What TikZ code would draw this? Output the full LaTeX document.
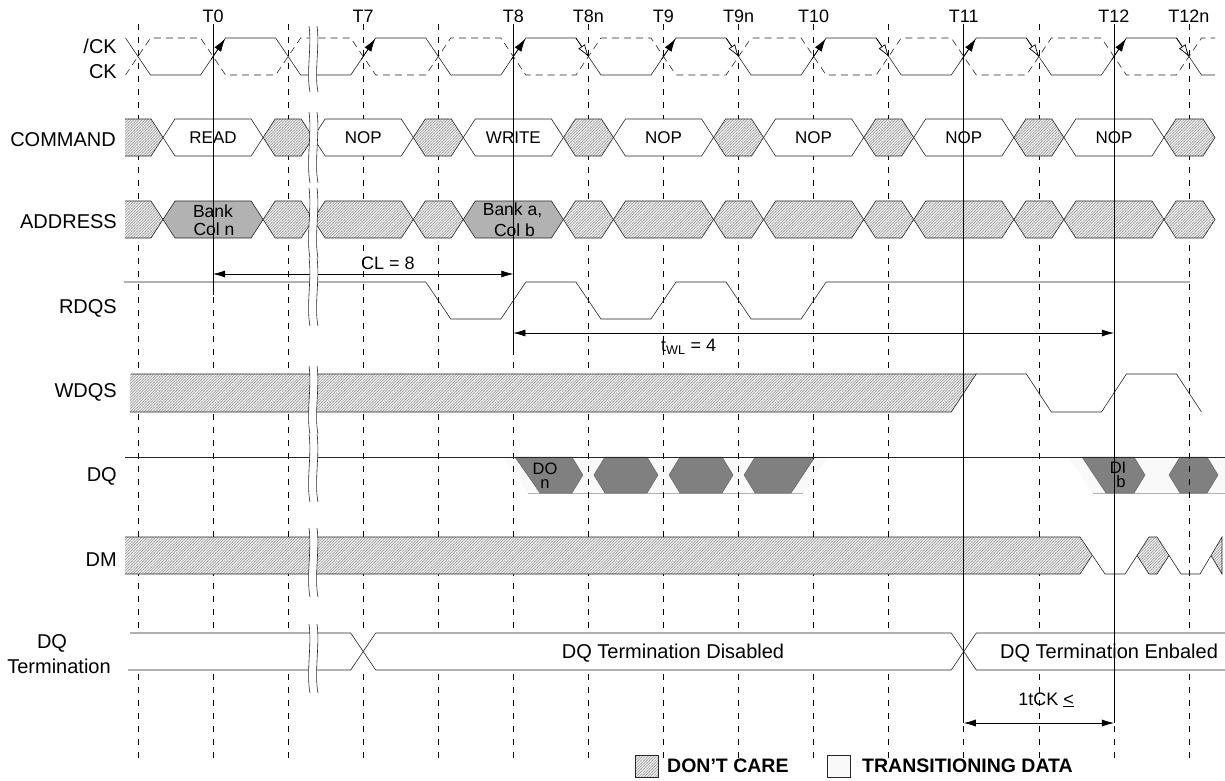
\documentclass[tikz,border=0pt]{standalone}
\usepackage{fontspec}
\setmainfont{Liberation Sans}
\usetikzlibrary{patterns.meta,arrows.meta}
\tikzdeclarepattern{name=finehatch,type=uncolored,bounding box={(-0.5pt,-0.5pt) and (3.3pt,3.3pt)},tile size={(2.8pt,2.8pt)},code={\draw[line width=0.5pt] (-0.5pt,-0.5pt) -- (3.3pt,3.3pt);}}
\pgfmathdeclarefunction{gx}{1}{\pgfmathparse{138+75.07*#1}}
\newcommand\hexa[5]{\draw[#1] ({#2},{(#4+#5)/2}) -- ({#2+12},#4) -- ({#3-12},#4) -- ({#3},{(#4+#5)/2}) -- ({#3-12},#5) -- ({#2+12},#5) -- cycle;}
\newcommand\brkmark[2]{%
\fill[white] (309,#1) .. controls (312,{#1+0.3*(#2-#1)}) and (306,{#1+0.7*(#2-#1)}) .. (310,#2) -- (318,#2) .. controls (314,{#1+0.7*(#2-#1)}) and (320,{#1+0.3*(#2-#1)}) .. (317,#1) -- cycle;
\draw[sig] (309,#1) .. controls (312,{#1+0.3*(#2-#1)}) and (306,{#1+0.7*(#2-#1)}) .. (310,#2);
\draw[sig] (317,#1) .. controls (320,{#1+0.3*(#2-#1)}) and (314,{#1+0.7*(#2-#1)}) .. (318,#2);}
\tikzset{
 sig/.style={line width=0.6pt, draw=black!85},
 hatch/.style={preaction={fill=gray!12}, pattern=finehatch, pattern color=gray!75},
 gridln/.style={line width=0.6pt, dash pattern=on 6pt off 7pt},
 lbl/.style={font=\fontsize{20}{22}\selectfont, inner sep=0pt},
 tlbl/.style={font=\fontsize{18}{20}\selectfont, inner sep=0pt},
 bus/.style={font=\fontsize{17}{19}\selectfont, inner sep=0pt},
 dimt/.style={font=\fontsize{18}{20}\selectfont, inner sep=0pt},
 small/.style={font=\fontsize{17.5}{19}\selectfont, inner sep=0pt},
 tiny/.style={font=\fontsize{16.5}{18}\selectfont, inner sep=0pt},
 big/.style={font=\fontsize{20}{22}\selectfont, inner sep=0pt},
 leg/.style={font=\fontsize{19.5}{22}\selectfont\bfseries, inner sep=0pt},
 darkd/.style={fill=gray, draw=black!60, line width=0.5pt},
 dim/.style={{Latex[length=12pt,width=7pt]}-{Latex[length=12pt,width=7pt]}, line width=0.6pt},
 farr/.style={-{Latex[length=13pt,width=8pt]}, line width=0.7pt},
 oarr/.style={-{Latex[length=13pt,width=8pt,fill=white]}, line width=0.7pt},
}
\begin{document}
\begin{tikzpicture}[x=1pt,y=-1pt]
\useasboundingbox (0,0) rectangle (1225,780);
% ---- DQ fills (below grid)
\fill[gray!5] (503,457) -- (827,457) -- (803,493) -- (528,493) -- cycle;
\draw[gray!60, line width=0.5pt] (528,493) -- (803,493);
\draw[darkd] (515,457) -- ({gx(6)-16.5},457) -- ({gx(6)-5.5},475) -- ({gx(6)-16.5},493) -- (540,493) -- cycle;
\foreach \k in {6,7} {\draw[darkd] ({gx(\k)+5.5},475) -- ({gx(\k)+16.5},457) -- ({gx(\k+1)-16.5},457) -- ({gx(\k+1)-5.5},475) -- ({gx(\k+1)-16.5},493) -- ({gx(\k)+16.5},493) -- cycle;}
\draw[darkd] ({gx(8)+5.5},475) -- ({gx(8)+16.5},457) -- (815,457) -- (791,493) -- ({gx(8)+16.5},493) -- cycle;
\fill[gray!5] (1068,457) -- (1225,457) -- (1225,493) -- (1093,493) -- cycle;
\draw[gray!60, line width=0.5pt] (1093,493) -- (1225,493);
\draw[darkd] (1082,457) -- (1134,457) -- (1145,475) -- (1134,493) -- (1106,493) -- cycle;
\draw[darkd] (1169,475) -- (1180,457) -- (1207,457) -- (1218,475) -- (1207,493) -- (1180,493) -- cycle;
% ---- grid
\foreach \k in {0,...,14} {\draw[gridln] ({gx(\k)},24) -- ({gx(\k)},760);}
% ---- clock
\draw[sig] (125.5,38) \foreach \k in {0,...,14} { -- ({gx(\k)-12.5},{38+37*mod(\k,2)}) -- ({gx(\k)+12.5},{75-37*mod(\k,2)}) } -- (1215,75);
\draw[sig, dash pattern=on 7pt off 5pt] (125.5,75) \foreach \k in {0,...,14} { -- ({gx(\k)-12.5},{75-37*mod(\k,2)}) -- ({gx(\k)+12.5},{38+37*mod(\k,2)}) } -- (1215,38);
\foreach \k in {1,3,5,7,9,11,13} {\draw[farr] ({gx(\k)-2},59.5) -- ({gx(\k)+12},38.7);}
\foreach \k in {6,8,10,12,14} {\draw[oarr] ({gx(\k)-12.5},38) -- ({gx(\k)+0.5},57.2);}
% ---- COMMAND
\fill[hatch] (125,119) -- (151,119) -- (163,137.5) -- (151,156) -- (125,156) -- cycle;
\draw[sig] (125,119) -- (151,119) -- (163,137.5) -- (151,156) -- (125,156);
\foreach \k in {2,4,...,12} {\hexa{sig,hatch}{gx(\k)-25}{gx(\k)+25}{119}{156}}
\hexa{sig,hatch}{gx(14)-25}{1215}{119}{156}
\foreach \k/\t in {1/READ,3/NOP,5/WRITE,7/NOP,9/NOP,11/NOP,13/NOP} {\hexa{sig,fill=white}{gx(\k-1)+25}{gx(\k+1)-25}{119}{156}
 \node[bus] (cmd\k) at ({gx(\k)},138) {\t};}
% ---- ADDRESS
\fill[hatch] (125,201) -- (151,201) -- (163,219.5) -- (151,238) -- (125,238) -- cycle;
\draw[sig] (125,201) -- (151,201) -- (163,219.5) -- (151,238) -- (125,238);
\foreach \k in {2,4,...,12} {\hexa{sig,hatch}{gx(\k)-25}{gx(\k)+25}{201}{238}}
\hexa{sig,hatch}{gx(14)-25}{1215}{201}{238}
\foreach \k in {3,7,9,11,13} {\hexa{sig,hatch}{gx(\k-1)+25}{gx(\k+1)-25}{201}{238}}
\foreach \k in {1,5} {\hexa{sig,fill=black!30}{gx(\k-1)+25}{gx(\k+1)-25}{201}{238}}
\node[small] (ad1) at (213,211) {Bank};
\node[small] (ad2) at (214,229.5) {Col n};
\node[small] (ad3) at (512.5,210.5) {Bank a,};
\node[small] (ad4) at (514.5,230) {Col b};
% ---- RDQS
\draw[sig] (124,282) -- ({gx(4)-12.5},282) -- ({gx(4)+12.5},319) -- ({gx(5)-12.5},319) -- ({gx(5)+12.5},282) -- ({gx(6)-12.5},282) -- ({gx(6)+12.5},319) -- ({gx(7)-12.5},319) -- ({gx(7)+12.5},282) -- ({gx(8)-12.5},282) -- ({gx(8)+12.5},319) -- ({gx(9)-12.5},319) -- ({gx(9)+12.5},282) -- (1190,282);
% ---- WDQS
\fill[hatch] (130,374) -- ({gx(11)+12.5},374) -- ({gx(11)-12.5},412) -- (130,412) -- cycle;
\draw[sig] (131,374) -- ({gx(11)+12.5},374) -- ({gx(11)-12.5},412) -- (130,412);
\draw[sig] ({gx(11)+12.5},374) -- ({gx(12)-12.5},374) -- ({gx(12)+12.5},412) -- ({gx(13)-12.5},412) -- ({gx(13)+12.5},374) -- ({gx(14)-12.5},374) -- ({gx(14)+12.5},412);
% ---- DQ
\draw[sig] (125,457) -- (1225,457);
\node[tiny] (do1) at (545,468.5) {DO};
\node[tiny] (do2) at (545,484) {n};
\node[tiny] (di1) at (1118,467.5) {DI};
\node[tiny] (di2) at (1121,481.5) {b};
% ---- DM
\fill[hatch] (125,537) -- (1080,537) -- (1092,555.5) -- (1080,574) -- (125,574) -- cycle;
\fill[hatch] (1137,555.5) -- (1149,537) -- (1157,537) -- (1169,555.5) -- (1157,574) -- (1149,574) -- cycle;
\fill[hatch] (1211,555.5) -- (1222,537) -- (1222,574) -- cycle;
\draw[sig] (125,537) -- (1080,537) -- (1105,574) -- (1125,574) -- (1149,537) -- (1157,537) -- (1181,574) -- (1200,574) -- (1222,537) -- (1222,574) -- (1211,555.5);
\draw[sig] (125,574) -- (1080,574) -- (1092,555.5);
\draw[sig] (1137,555.5) -- (1149,574) -- (1157,574) -- (1169,555.5);
% ---- DQ Termination
\fill[white] (128,633) rectangle (1225,670);
\draw[sig] (130,633) -- ({gx(3)-12.5},633) -- ({gx(3)+12.5},670) -- ({gx(11)-12.5},670) -- ({gx(11)+12.5},633) -- (1225,633);
\draw[sig] (128,670) -- ({gx(3)-12.5},670) -- ({gx(3)+12.5},633) -- ({gx(11)-12.5},633) -- ({gx(11)+12.5},670) -- (1225,670);
\node[big] (dis) at (673,653) {DQ Termination Disabled};
\node[big] (ena) at (1109,653) {DQ Termination Enbaled};
% ---- solid reference lines
\draw[sig,draw=black] ({gx(1)},28) -- ({gx(1)},295);
\draw[sig,draw=black] ({gx(5)},28) -- ({gx(5)},355);
\draw[sig,draw=black] ({gx(11)},28) -- ({gx(11)},723);
\draw[sig,draw=black] ({gx(13)},28) -- ({gx(13)},723);
% ---- dimensions
\draw[dim] ({gx(1)},274) -- ({gx(5)},274);
\node[dimt,anchor=west] (cl) at (361,263.5) {CL = 8};
\draw[dim] ({gx(5)},333) -- ({gx(13)},333);
\node[dimt,anchor=west] (twl) at (661,347) {t\textsubscript{WL} = 4};
\draw[dim] ({gx(11)},723) -- ({gx(13)},723);
\node[dimt] (tck) at (1046,700) {1tCK \underline{<}};
% ---- breaks
\brkmark{26}{92}
\brkmark{112}{183}
\brkmark{188}{258}
\brkmark{258}{326}
\brkmark{366}{434}
\brkmark{434}{502}
\brkmark{528}{597}
\brkmark{624}{693}
% ---- labels
\foreach \k/\t in {1/T0,3/T7,5/T8,6/T8n,7/T9,8/T9n,9/T10,11/T11,13/T12,14/T12n} {\node[tlbl] (t\k) at ({gx(\k)},16) {\t};}
\node[lbl,anchor=east] (l1) at (117,46.5) {/CK};
\node[lbl,anchor=east] (l2) at (117,72) {CK};
\node[lbl,anchor=east] (l3) at (116,139.5) {COMMAND};
\node[lbl,anchor=east] (l4) at (117,221.5) {ADDRESS};
\node[lbl,anchor=east] (l5) at (117,308) {RDQS};
\node[lbl,anchor=east] (l6) at (117,392) {WDQS};
\node[lbl,anchor=east] (l7) at (117,476) {DQ};
\node[lbl,anchor=east] (l8) at (117,560) {DM};
\node[lbl] (l9) at (52,643) {DQ};
\node[lbl] (l10) at (59,666) {Termination};
% ---- legend
\draw[sig,hatch] (635,755) rectangle (658,777);
\node[leg,anchor=west] (lg1) at (667,766) {DON’T CARE};
\draw[sig,fill=gray!5] (827,755) rectangle (850,777);
\node[leg,anchor=west] (lg2) at (862,766) {TRANSITIONING DATA};
\end{tikzpicture}
\end{document}
